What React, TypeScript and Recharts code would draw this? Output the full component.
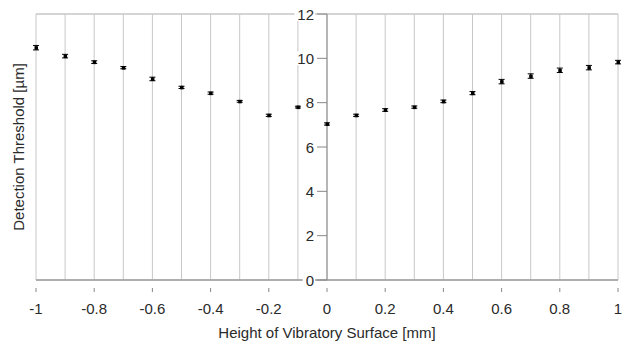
import React from 'react';
import {
  ScatterChart,
  Scatter,
  XAxis,
  YAxis,
  CartesianGrid,
  ErrorBar,
  ReferenceLine,
  ReferenceDot,
} from 'recharts';

// Measured data (height in mm, threshold in µm)
const heights = [-1, -0.9, -0.8, -0.7, -0.6, -0.5, -0.4, -0.3, -0.2, -0.1, 0, 0.1, 0.2, 0.3, 0.4, 0.5, 0.6, 0.7, 0.8, 0.9, 1];
const thresholds = [10.48, 10.1, 9.83, 9.58, 9.07, 8.69, 8.43, 8.06, 7.43, 7.8, 7.04, 7.43, 7.67, 7.8, 8.06, 8.43, 8.95, 9.2, 9.46, 9.58, 9.83];
const errors = [0.1, 0.08, 0.06, 0.05, 0.08, 0.05, 0.05, 0.04, 0.05, 0.04, 0.05, 0.05, 0.06, 0.05, 0.06, 0.07, 0.1, 0.1, 0.1, 0.1, 0.08];

const xTicks = [-1, -0.9, -0.8, -0.7, -0.6, -0.5, -0.4, -0.3, -0.2, -0.1, 0, 0.1, 0.2, 0.3, 0.4, 0.5, 0.6, 0.7, 0.8, 0.9, 1];
const yTicks = [0, 2, 4, 6, 8, 10, 12];

const data = heights.map((h, i) => ({ x: h, y: thresholds[i], err: errors[i] }));

const FONT = '"Liberation Sans", Arial, sans-serif';
const TEXT = '#2a2a2a';
const AXIS = '#888';

const XTick = ({ x, y, payload, index }: any) => {
  if (index % 2 !== 0) return null;
  const v = Math.round(payload.value * 10) / 10;
  return (
    <g>
      <line x1={x} y1={y} x2={x} y2={y + 4} stroke={AXIS} />
      <text x={x} y={y + 26} textAnchor="middle" fontSize={15} fontFamily={FONT} fill={TEXT}>
        {String(v)}
      </text>
    </g>
  );
};

// y labels sit on the vertical axis at x = 0
const YLabel = ({ cx, cy, label }: any) => {
  const w = String(label).length * 8.3;
  return (
    <g>
      <rect x={cx - 13 - w - 3} y={cy - 7} width={w + 4} height={14} fill="#fff" />
      <line x1={cx - 10} y1={cy} x2={cx} y2={cy} stroke={AXIS} />
      <text x={cx - 13} y={cy + 5.5} textAnchor="end" fontSize={15} fontFamily={FONT} fill={TEXT}>
        {label}
      </text>
    </g>
  );
};

const Marker = ({ cx, cy }: any) => (
  <rect x={cx - 1.5} y={cy - 1.5} width={3.5} height={3.5} fill="#000" />
);

export default function App() {
  return (
    <div style={{ position: 'absolute', left: 0, top: 0, background: '#fff' }}>
      <ScatterChart width={627} height={343} margin={{ top: 14, right: 9, left: 0, bottom: 0 }}>
        <CartesianGrid vertical={false} stroke="#aaa" />
        <CartesianGrid horizontal={false} stroke="#c8c8c8" />
        <XAxis
          type="number"
          dataKey="x"
          domain={[-1, 1]}
          ticks={xTicks}
          interval={0}
          height={63}
          axisLine={{ stroke: AXIS }}
          tickLine={false}
          tick={<XTick />}
          label={{
            value: 'Height of Vibratory Surface [mm]',
            position: 'insideBottom',
            offset: 5,
            fontSize: 15,
            fontFamily: FONT,
            fill: TEXT,
          }}
        />
        <YAxis
          type="number"
          dataKey="y"
          domain={[0, 12]}
          ticks={yTicks}
          width={36}
          tick={false}
          tickLine={false}
          axisLine={false}
          label={{
            value: 'Detection Threshold [µm]',
            angle: -90,
            position: 'center',
            dx: 1,
            fontSize: 15,
            fontFamily: FONT,
            fill: TEXT,
          }}
        />
        <ReferenceLine x={0} stroke={AXIS} />
        {yTicks.map((v) => (
          <ReferenceDot
            key={v}
            x={0}
            y={v}
            r={0}
            ifOverflow="visible"
            shape={(p: any) => <YLabel {...p} label={v} />}
          />
        ))}
        <Scatter data={data} shape={<Marker />} isAnimationActive={false}>
          <ErrorBar dataKey="err" direction="y" width={3} stroke="#000" strokeWidth={1} />
        </Scatter>
      </ScatterChart>
    </div>
  );
}
